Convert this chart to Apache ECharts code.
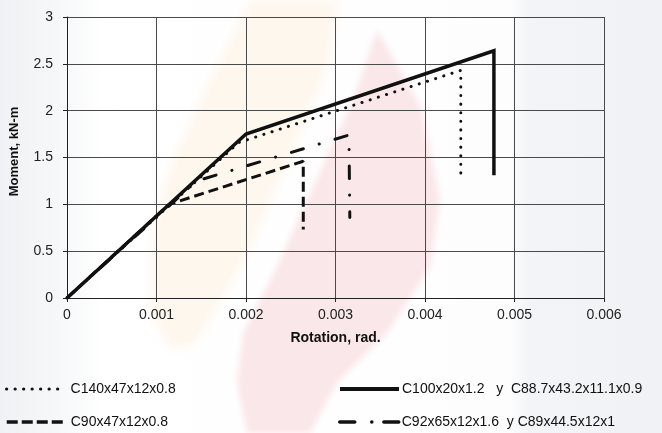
<!DOCTYPE html>
<html>
<head>
<meta charset="utf-8">
<script src="https://cdn.jsdelivr.net/npm/echarts@6/dist/echarts.min.js"></script>
<style>
  html, body { margin: 0; padding: 0; background: #fff; }
  #chart { width: 662px; height: 433px; }
</style>
</head>
<body>
<div id="chart"></div>
<script>
// Moment–rotation curves of the connection specimens
const nameC140 = 'C140x47x12x0.8';
const nameC100 = 'C100x20x1.2   y  C88.7x43.2x11.1x0.9';
const nameC90 = 'C90x47x12x0.8';
const nameC92 = 'C92x65x12x1.6  y C89x44.5x12x1';

const rotC140 = [0, 0.00192, 0.0044, 0.0044];
const momC140 = [0, 1.66, 2.43, 1.27];

const rotC100 = [0, 0.002, 0.00477, 0.00477];
const momC100 = [0, 1.75, 2.64, 1.31];

const rotC90 = [0, 0.00114, 0.00264, 0.00264];
const momC90 = [0, 1.0, 1.46, 0.73];

const rotC92 = [0, 0.00145, 0.00315, 0.00316];
const momC92 = [0, 1.25, 1.74, 0.86];

const xTicks = { min: 0, max: 0.006, step: 0.001 };
const yTicks = { min: 0, max: 3, step: 0.5 };

const pairs = (xs, ys) => xs.map((x, i) => [x, ys[i]]);

const FONT = '"Liberation Sans", Arial, sans-serif';
const INK = '#111';

// line dash patterns
const DOTTED = [0.1, 8.5];
const DASHED = [10, 5];
const DASH_DOT = [12.5, 16.5, 0.1, 16.5];

// soft background emblem shapes (blurred via an offset shadow)
const SHIFT = 3000;
function softShape(points, color, blur) {
  return {
    type: 'polygon',
    z: -10,
    silent: true,
    shape: { points: points.map(p => [p[0] - SHIFT, p[1]]) },
    style: {
      fill: color,
      shadowColor: color,
      shadowBlur: blur,
      shadowOffsetX: SHIFT,
      shadowOffsetY: 0
    }
  };
}

const peach = [[250,0],[338,0],[330,60],[310,110],[280,180],[250,250],[222,300],[195,345],[170,350],[150,312],[150,250],[165,180],[195,110],[225,50]];
const pink = [[377,30],[400,70],[422,110],[440,200],[430,267],[387,333],[337,383],[310,433],[247,433],[237,383],[243,333],[277,267],[307,200],[353,100]];

const chart = echarts.init(document.getElementById('chart'), null, { renderer: 'canvas' });

function legendBox(name, left, top, width, padLeft, line) {
  return {
    data: [name],
    left: left,
    top: top,
    orient: 'horizontal',
    itemWidth: width,
    itemHeight: 14,
    padding: 0,
    selectedMode: false,
    itemStyle: { opacity: 0 },
    lineStyle: line,
    textStyle: { fontFamily: FONT, fontSize: 14, color: INK, padding: [0, 0, 0, padLeft] }
  };
}

chart.setOption({
  animation: false,
  backgroundColor: {
    type: 'linear', x: 0, y: 0, x2: 1, y2: 0,
    colorStops: [
      { offset: 0, color: '#eff1f4' },
      { offset: 0.08, color: '#f6f7f9' },
      { offset: 0.16, color: '#ffffff' },
      { offset: 0.77, color: '#fdfdfe' },
      { offset: 0.80, color: '#f3f4f7' },
      { offset: 1, color: '#f1f2f5' }
    ]
  },
  graphic: [
    softShape(peach, '#fef7ee', 10),
    softShape(pink, '#fae7e9', 6)
  ],
  grid: { left: 67, right: 58, top: 17, bottom: 135, containLabel: false },
  xAxis: {
    type: 'value',
    min: xTicks.min, max: xTicks.max, interval: xTicks.step,
    name: 'Rotation, rad.',
    nameLocation: 'middle',
    nameGap: 33,
    nameTextStyle: { fontFamily: FONT, fontSize: 14, fontWeight: 'bold', color: INK },
    axisLine: { show: true, lineStyle: { color: '#222', width: 1 } },
    axisTick: { show: true, inside: false, length: 4, lineStyle: { color: '#222' } },
    axisLabel: { fontFamily: FONT, fontSize: 14, color: '#222', margin: 10,
      formatter: v => (v === 0 ? '0' : v.toFixed(3)) },
    splitLine: { show: true, lineStyle: { color: '#4a4a4a', width: 1 } }
  },
  yAxis: {
    type: 'value',
    min: yTicks.min, max: yTicks.max, interval: yTicks.step,
    name: 'Moment, kN-m',
    nameLocation: 'middle',
    nameGap: 46,
    nameTextStyle: { fontFamily: FONT, fontSize: 13, fontWeight: 'bold', color: INK, padding: [0, 0, 0, 12] },
    axisLine: { show: true, lineStyle: { color: '#222', width: 1 } },
    axisTick: { show: true, inside: false, length: 4, lineStyle: { color: '#222' } },
    axisLabel: { fontFamily: FONT, fontSize: 14, color: '#222', margin: 14 },
    splitLine: { show: true, lineStyle: { color: '#4a4a4a', width: 1 } }
  },
  legend: [
    legendBox(nameC140, 5, 382, 56, 3, { width: 3.2, type: [0.1, 8.4], cap: 'round' }),
    legendBox(nameC90, 5, 415, 56, 3, { width: 3.5, type: [11, 4], cap: 'butt' }),
    legendBox(nameC100, 338, 382, 59, -2, { width: 4, type: 'solid' }),
    legendBox(nameC92, 338, 415, 59, -2, { width: 3.5, type: [15, 17, 0.1, 12], cap: 'round' })
  ],
  series: [
    {
      name: nameC90, type: 'line', symbol: 'none',
      data: pairs(rotC90, momC90),
      itemStyle: { color: INK },
      lineStyle: { color: INK, width: 3, type: DASHED, cap: 'butt' }
    },
    {
      name: nameC92, type: 'line', symbol: 'none',
      data: pairs(rotC92, momC92),
      itemStyle: { color: INK },
      lineStyle: { color: INK, width: 3, type: DASH_DOT, cap: 'round' }
    },
    {
      name: nameC140, type: 'line', symbol: 'none',
      data: pairs(rotC140, momC140),
      itemStyle: { color: INK },
      lineStyle: { color: INK, width: 3, type: DOTTED, cap: 'round' }
    },
    {
      name: nameC100, type: 'line', symbol: 'none',
      data: pairs(rotC100, momC100),
      itemStyle: { color: INK },
      lineStyle: { color: INK, width: 3.5, type: 'solid', join: 'miter' }
    }
  ]
});
</script>
</body>
</html>
